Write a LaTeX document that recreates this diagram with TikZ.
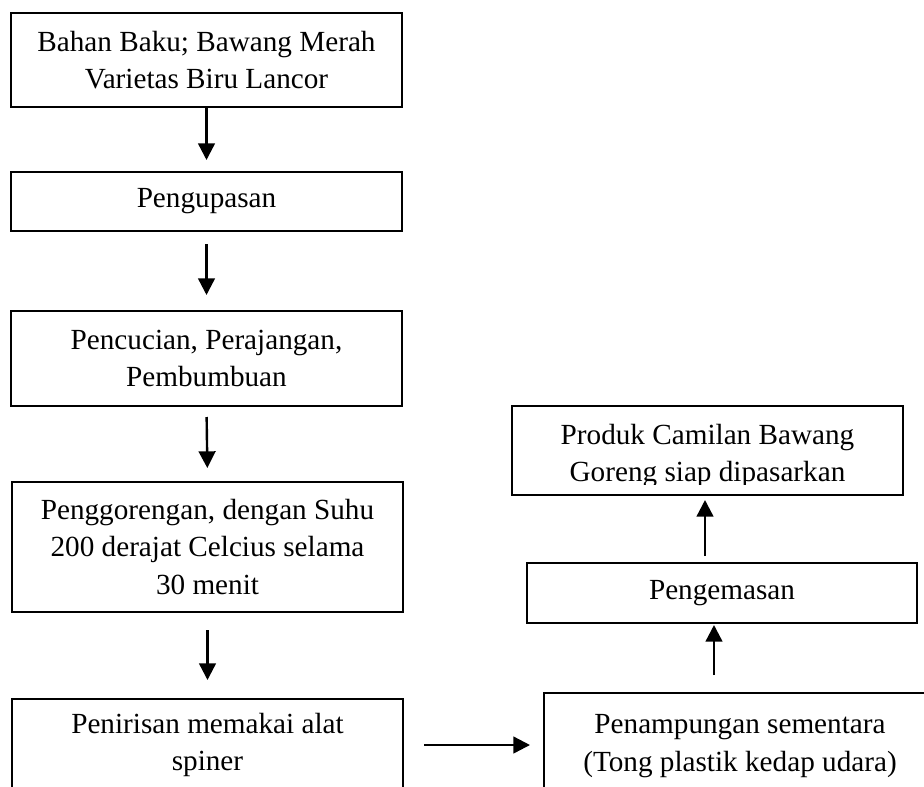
\documentclass[tikz,border=0pt]{standalone}
\usepackage{fontspec}
\setmainfont{Liberation Serif}
\usetikzlibrary{arrows.meta}
\tikzset{
  box/.style={draw, line width=1.5pt, inner sep=0pt, align=center, minimum width=391*0.75pt},
  txt/.style={inner sep=0pt, align=center},
  arr/.style={line width=1.8pt, -{Triangle[width=12.5pt,length=12.5pt]}},
  every node/.style={font=\fontsize{21.9}{28}\selectfont}
}
\begin{document}
\begin{tikzpicture}[x=0.75pt,y=-0.75pt]
\useasboundingbox (0,0) rectangle (924,786);
\clip (0,0) rectangle (924,786);
% left column
\node[box, minimum height=94*0.75pt] (b1) at (206.5,60) {Bahan Baku; Bawang Merah\\Varietas Biru Lancor};
\node[box, minimum height=59*0.75pt] (b2) at (206.5,201.5) {Pengupasan};
\node[box, minimum height=95*0.75pt] (b3) at (206.5,358.5) {Pencucian, Perajangan,\\Pembumbuan};
\node[box, minimum height=130*0.75pt] (b4) at (207.5,547) {Penggorengan, dengan Suhu\\200 derajat Celcius selama\\30 menit};
\node[box, minimum height=92*0.75pt] (b5) at (207.5,745) {Penirisan memakai alat\\spiner};
% right column
\node[box, minimum width=404*0.75pt, minimum height=104*0.75pt] (b6) at (746,745) {};
\node[txt] (t6) at (740,746) {Penampungan sementara\\(Tong plastik kedap udara)};
\node[box, minimum width=390*0.75pt, minimum height=60*0.75pt] (b7) at (722,593) {Pengemasan};
\node[box, minimum width=391*0.75pt, minimum height=89*0.75pt] (b8) at (707.5,450.5) {};
\begin{scope}
  \clip (500,400) rectangle (920,484);
  \node[txt] (t8) at (707.5,455.7) {Produk Camilan Bawang\\Goreng siap dipasarkan};
\end{scope}
% arrows
\coordinate (c6) at (714,0);
\coordinate (c7) at (705,0);
\draw[arr, shorten >=11*0.75pt] (b1.south) -- (b2.north);
\draw[arr, shorten <=12*0.75pt, shorten >=15*0.75pt] (b2.south) -- (b3.north);
\draw[arr, shorten <=10*0.75pt, shorten >=13*0.75pt] (b3.south) -- (b4.north);
\draw[arr, shorten <=17*0.75pt, shorten >=18*0.75pt] (b4.south) -- (b5.north);
\draw[arr, shorten <=20*0.75pt, shorten >=13*0.75pt] (b5.east) -- (b6.west);
\draw[arr, shorten <=17*0.75pt, shorten >=1*0.75pt] (b6.north -| c6) -- (b7.south -| c6);
\draw[arr, shorten <=6*0.75pt, shorten >=4*0.75pt] (b7.north -| c7) -- (b8.south -| c7);
\end{tikzpicture}
\end{document}
